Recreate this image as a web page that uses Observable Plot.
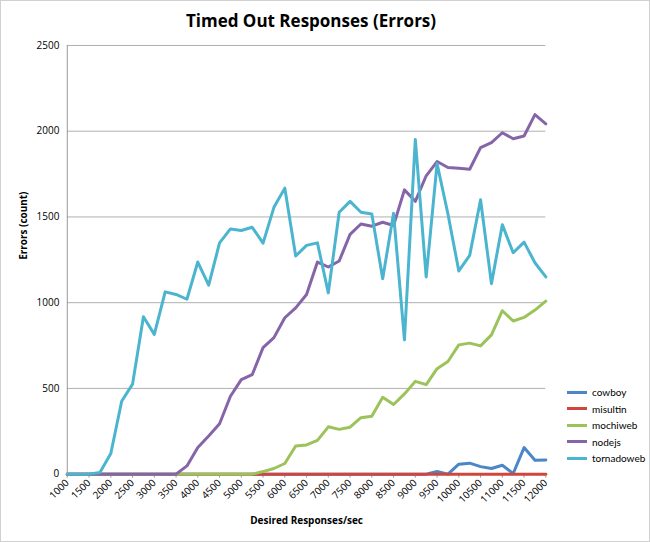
<!DOCTYPE html>
<html><head><meta charset="utf-8">
<script src="https://cdn.jsdelivr.net/npm/d3@7"></script>
<script src="https://cdn.jsdelivr.net/npm/@observablehq/plot@0.6"></script>
<style>
body{margin:0;background:#fff;font-family:"Open Sans",sans-serif;}
#wrap{position:relative;width:648px;height:540px;border:1px solid #d0d0d0;}
#title{position:absolute;top:8px;left:0;width:620px;text-align:center;font-weight:bold;font-size:17px;color:#000;}
#chart{position:absolute;top:35px;left:0;}
#legend{position:absolute;left:566px;top:383px;font-size:10px;font-family:Lato,sans-serif;white-space:nowrap;}
#legend div{height:16.5px;display:flex;align-items:center;}
#legend span.sw{display:inline-block;width:20px;height:3px;margin-right:5px;}
</style></head><body>
<div id="wrap"><div id="title">Timed Out Responses (Errors)</div><div id="chart"></div><div id="legend"></div></div>
<script>
const xs = d3.range(1000, 12001, 250);
const series = ["cowboy","misultin","mochiweb","nodejs","tornadoweb"];
const colors = ["#4a86c8","#d0463c","#9bc35a","#8565a8","#4bb4cf"];
const cowboy = [0,0,0,0,0,0,0,0,0,0,0,0,0,0,0,0,0,0,0,0,0,0,0,0,0,0,0,0,0,0,0,0,0,0,15,0,58,64,44,33,52,4,155,81,83];
const misultin = new Array(45).fill(0);
const mochiweb = [0,0,0,0,0,0,0,0,0,0,0,0,0,0,0,0,0,0,15,33,62,164,170,197,276,261,274,329,338,448,406,468,541,522,615,657,754,764,748,812,953,893,914,957,1009];
const nodejs = [0,0,0,0,0,0,0,0,0,0,0,48,155,222,294,454,551,580,738,796,912,970,1048,1237,1208,1243,1398,1459,1446,1469,1450,1658,1591,1740,1823,1788,1784,1778,1904,1933,1991,1956,1972,2097,2043];
const tornadoweb = [0,0,0,10,120,425,525,918,815,1063,1048,1020,1237,1102,1349,1430,1421,1440,1347,1556,1668,1272,1334,1349,1057,1527,1591,1527,1517,1140,1521,783,1952,1150,1811,1517,1185,1276,1600,1111,1455,1291,1353,1233,1150];
const vals = {cowboy, misultin, mochiweb, nodejs, tornadoweb};
const data = series.flatMap(s => xs.map((x,i) => ({x, y: vals[s][i], s})));
const xticks = d3.range(1000, 12001, 500);
const yticks = [0,500,1000,1500,2000,2500];
const fmt = d => String(d);
const plot = Plot.plot({
  width: 650, height: 507,
  marginLeft: 66, marginRight: 104, marginTop: 9, marginBottom: 68,
  style: {fontFamily: "Open Sans, sans-serif", fontSize: "10px", color: "#000"},
  x: {domain: [1000, 12000], label: null},
  y: {domain: [0, 2500], label: null},
  color: {domain: series, range: colors},
  marks: [
    Plot.gridY([500,1000,1500,2000,2500], {stroke: "#b0b0b0", strokeOpacity: 1}),
    Plot.ruleX([1000], {stroke: "#999"}),
    Plot.ruleY([0], {stroke: "#999"}),
    Plot.axisY({ticks: yticks, tickFormat: fmt, tickSize: 0, tickPadding: 8, label: null}),
    Plot.axisX({ticks: xticks, tickFormat: fmt, tickRotate: -45, tickSize: 4, tickPadding: 3, label: null, stroke: "#999"}),
    Plot.lineY(data, {x: "x", y: "y", z: "s", stroke: "s", strokeWidth: 3}),
    Plot.text(["Desired Responses/sec"], {frameAnchor: "bottom", dy: 50, fontWeight: "bold", fontSize: 10}),
    Plot.text(["Errors (count)"], {frameAnchor: "left", dx: -44, rotate: -90, fontWeight: "bold", fontSize: 10})
  ]
});
document.getElementById("chart").appendChild(plot);
const lg = document.getElementById("legend");
series.forEach((s,i) => {
  const d = document.createElement("div");
  d.innerHTML = `<span class="sw" style="background:${colors[i]}"></span>${s}`;
  lg.appendChild(d);
});
</script></body></html>
